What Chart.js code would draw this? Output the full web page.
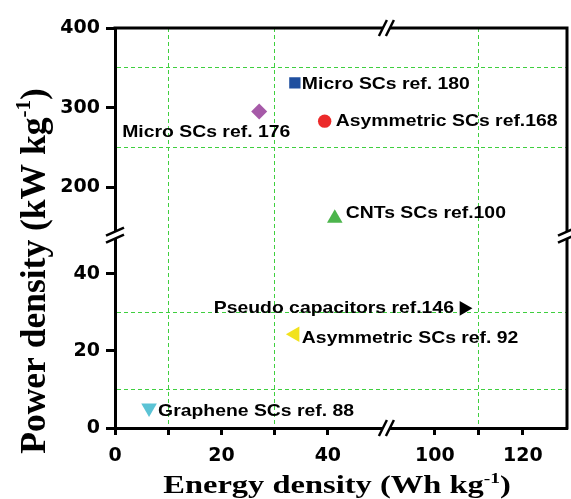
<!DOCTYPE html>
<html>
<head>
<meta charset="utf-8">
<script src="https://cdn.jsdelivr.net/npm/chart.js@4.4.1/dist/chart.umd.min.js"></script>
<style>
  html, body { margin: 0; padding: 0; background: #fff; }
  #wrap { width: 571px; height: 499px; }
</style>
</head>
<body>
<div id="wrap"><canvas id="chart" width="571" height="499"></canvas></div>
<script>
// values
var names = ['Micro SCs ref. 180', 'Micro SCs ref. 176', 'Asymmetric SCs ref.168', 'CNTs SCs ref.100',
             'Pseudo capacitors ref.146', 'Asymmetric SCs ref. 92', 'Graphene SCs ref. 88'];
var energy = [33.8, 27.1, 39.4, 41.3, 106.6, 33.8, 6.4];   // Wh/kg
var power  = [331, 295, 283, 161, 31, 24.3, 5.2];          // kW/kg

var xLeftTicks   = [0, 10, 20, 30, 40];
var xRightTicks  = [100, 110, 120];
var yTopTicks    = [200, 250, 300, 350, 400];
var yBottomTicks = [0, 10, 20, 30, 40];
var xLeftGrid    = [10, 30];
var xRightGrid   = [110];
var yTopGrid     = [250, 350];
var yBottomGrid  = [10, 30];

// marker look, one per point
var colors  = ['#1f4f9f', '#a65aa8', '#ec2a2a', '#4cb54c', '#000000', '#f2e21c', '#5bc3d5'];
var shapes  = ['rect', 'rectRot', 'circle', 'triangle', 'triangle', 'triangle', 'triangle'];
var turns   = [0, 0, 0, 0, 90, -90, 180];
var sizes   = [8, 8, 6.7, 9, 8.5, 9, 9];
// label placement relative to the marker
var labelPos = [
    { dx: 7,   dy: 0,    align: 'left' },
    { dx: -53, dy: 19.5, align: 'center' },
    { dx: 11,  dy: -1,   align: 'left' },
    { dx: 11,  dy: -6.5, align: 'left' },
    { dx: -10, dy: -1,   align: 'right' },
    { dx: 7,   dy: 3,    align: 'left' },
    { dx: 9,   dy: 2.5,  align: 'left' }
];

var GREEN = '#3fcf3f';
var NONE = 'rgba(0,0,0,0)';
var tickFont = { family: 'DejaVu Sans', size: 19, weight: 'bold' };

var datasets = names.map(function (n, i) {
    return {
        label: n,
        data: [{ x: energy[i], y: power[i] }],
        xAxisID: energy[i] > 60 ? 'xR' : 'xL',
        yAxisID: power[i] > 100 ? 'yT' : 'yB',
        pointStyle: shapes[i],
        rotation: turns[i],
        pointRadius: sizes[i],
        backgroundColor: colors[i],
        borderColor: colors[i],
        borderWidth: 0
    };
});

function makeAxis(pos, weight, min, max, ticks, grid, labelled, markAll) {
    var horiz = pos === 'bottom';
    return {
        type: 'linear',
        position: pos,
        stack: horiz ? 'x' : 'y',
        stackWeight: weight,
        min: min,
        max: max,
        afterBuildTicks: function (s) {
            s.ticks = ticks.map(function (v) { return { value: v }; });
        },
        afterFit: function (s) {
            if (horiz) s.height = 34; else s.width = 60;
            // the breaks make edge label overhang meaningless
            s.paddingLeft = s.paddingRight = s.paddingTop = s.paddingBottom = 0;
        },
        ticks: {
            autoSkip: false,
            maxRotation: 0,
            color: '#000',
            font: tickFont,
            padding: horiz ? 10 : 6,
            callback: function (v) { return labelled.indexOf(v) >= 0 ? String(v) : ''; }
        },
        grid: {
            lineWidth: 1,
            color: function (c) { return c.tick && grid.indexOf(c.tick.value) >= 0 ? GREEN : NONE; },
            drawTicks: true,
            tickLength: horiz ? 7 : 9,
            tickWidth: 3,
            tickColor: function (c) {
                return markAll || (c.tick && labelled.indexOf(c.tick.value) >= 0) ? '#000' : NONE;
            }
        },
        border: { display: true, color: '#000', width: 3, dash: [4, 3] }
    };
}

function drawBreak(ctx, x, y, onHoriz) {
    ctx.save();
    ctx.translate(x, y);
    var a, b, gap = 3.5;
    if (onHoriz) { a = [-4, 8]; b = [4, -8]; }
    else { a = [-9, 4]; b = [9, -4]; }
    ctx.beginPath();
    if (onHoriz) {
        ctx.moveTo(a[0] - gap, a[1]); ctx.lineTo(b[0] - gap, b[1]);
        ctx.lineTo(b[0] + gap, b[1]); ctx.lineTo(a[0] + gap, a[1]);
    } else {
        ctx.moveTo(a[0], a[1] - gap); ctx.lineTo(b[0], b[1] - gap);
        ctx.lineTo(b[0], b[1] + gap); ctx.lineTo(a[0], a[1] + gap);
    }
    ctx.closePath();
    ctx.fillStyle = '#fff';
    ctx.fill();
    ctx.strokeStyle = '#000';
    ctx.lineWidth = 2.5;
    for (var k = -1; k <= 1; k += 2) {
        ctx.beginPath();
        if (onHoriz) { ctx.moveTo(a[0] + k * gap, a[1]); ctx.lineTo(b[0] + k * gap, b[1]); }
        else { ctx.moveTo(a[0], a[1] + k * gap); ctx.lineTo(b[0], b[1] + k * gap); }
        ctx.stroke();
    }
    ctx.restore();
}

// text pieces with a raised "-1"
function drawTitle(ctx, parts, size, supSize, sx) {
    var i, w = 0, widths = [];
    for (i = 0; i < parts.length; i++) {
        ctx.font = 'bold ' + (parts[i].sup ? supSize : size) + 'px "Liberation Serif", "DejaVu Serif", serif';
        widths.push(ctx.measureText(parts[i].t).width);
        w += widths[i];
    }
    var x = -w / 2;
    ctx.scale(sx, 1);
    for (i = 0; i < parts.length; i++) {
        ctx.font = 'bold ' + (parts[i].sup ? supSize : size) + 'px "Liberation Serif", "DejaVu Serif", serif';
        ctx.fillText(parts[i].t, x, parts[i].sup ? -size * 0.42 : 0);
        x += widths[i];
    }
}

var decor = {
    id: 'decor',
    afterDraw: function (chart) {
        var ctx = chart.ctx, a = chart.chartArea;
        var xL = chart.scales.xL, yT = chart.scales.yT;
        var bx = xL.right, by = yT.bottom;

        // frame top and right
        ctx.save();
        ctx.strokeStyle = '#000';
        ctx.lineWidth = 3;
        ctx.beginPath();
        ctx.moveTo(a.left - 1.5, a.top);
        ctx.lineTo(a.right, a.top);
        ctx.lineTo(a.right, a.bottom + 1.5);
        ctx.stroke();
        ctx.restore();

        drawBreak(ctx, bx, a.top, true);
        drawBreak(ctx, bx, a.bottom, true);
        drawBreak(ctx, a.left, by, false);
        drawBreak(ctx, a.right, by, false);

        // point labels
        ctx.save();
        ctx.fillStyle = '#000';
        ctx.font = 'bold 17px "Liberation Sans", Arial, sans-serif';
        ctx.textBaseline = 'middle';
        names.forEach(function (n, i) {
            var el = chart.getDatasetMeta(i).data[0];
            var p = labelPos[i];
            ctx.save();
            ctx.translate(el.x + p.dx, el.y + p.dy);
            ctx.scale(1.14, 1);
            ctx.textAlign = p.align;
            ctx.fillText(n, 0, 1);
            ctx.restore();
        });
        ctx.restore();

        // axis titles
        ctx.save();
        ctx.fillStyle = '#000';
        ctx.textBaseline = 'alphabetic';
        ctx.textAlign = 'left';
        ctx.translate(337, 493);
        drawTitle(ctx, [{ t: 'Energy density (Wh kg' }, { t: '-1', sup: true }, { t: ')' }], 25, 15, 1.3);
        ctx.restore();

        ctx.save();
        ctx.fillStyle = '#000';
        ctx.textBaseline = 'alphabetic';
        ctx.textAlign = 'left';
        ctx.translate(45, 271);
        ctx.rotate(-Math.PI / 2);
        drawTitle(ctx, [{ t: 'Power density (kW kg' }, { t: '-1', sup: true }, { t: ')' }], 35.5, 21, 1);
        ctx.restore();
    }
};

new Chart(document.getElementById('chart'), {
    type: 'scatter',
    data: { datasets: datasets },
    options: {
        responsive: false,
        animation: false,
        layout: { autoPadding: false, padding: { left: 55, top: 28, right: 4, bottom: 37 } },
        plugins: { legend: { display: false }, tooltip: { enabled: false } },
        scales: {
            // left boxes are stacked in reverse order, so the lower segment comes first
            yB: makeAxis('left', 192, 0, 50, yBottomTicks, yBottomGrid, [0, 20, 40], false),
            yT: makeAxis('left', 206, 140, 400, yTopTicks, yTopGrid, [200, 300, 400], false),
            xL: makeAxis('bottom', 272, 0, 51, xLeftTicks, xLeftGrid, [0, 20, 40], true),
            xR: makeAxis('bottom', 181, 89, 130, xRightTicks, xRightGrid, [100, 120], true)
        }
    },
    plugins: [decor]
});
</script>
</body>
</html>
